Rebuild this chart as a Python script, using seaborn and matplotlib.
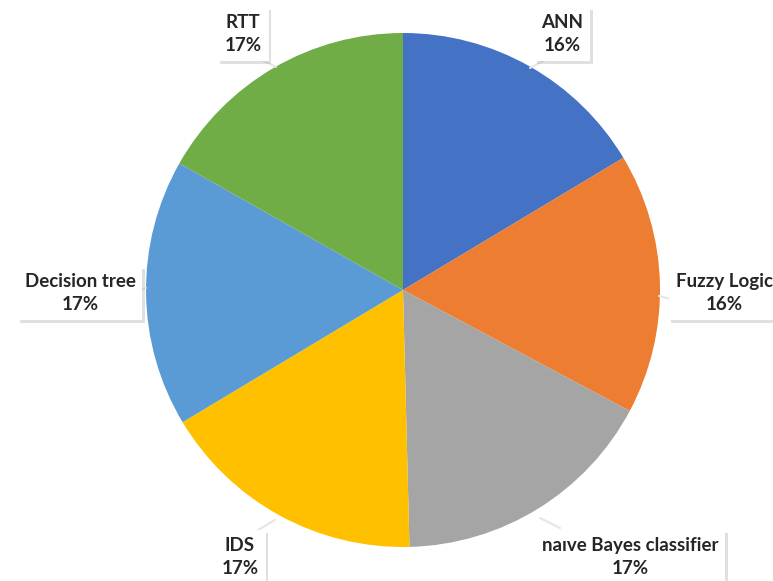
import matplotlib
matplotlib.use("Agg")
import matplotlib.pyplot as plt
import matplotlib.patheffects as pe
from matplotlib.patches import Rectangle
from matplotlib.transforms import Bbox
import seaborn as sns

categories = ["ANN", "Fuzzy Logic", "naıve Bayes classifier", "IDS", "Decision tree", "RTT"]
values = [16.4, 16.4, 16.8, 16.8, 16.8, 16.8]
colors = ["#4472C4", "#ED7D31", "#A5A5A5", "#FFC000", "#5B9BD5", "#70AD47"]

sns.set_theme(style="white")
plt.rcParams['font.family'] = ['Lato', 'DejaVu Sans']

W, H = 773, 581
fig = plt.figure(figsize=(W / 100, H / 100), dpi=100)
ax = fig.add_axes([0, 0, 1, 1])

cx, cy, r = 403, H - 290, 257
ax.pie(values, colors=colors, startangle=90, counterclock=False,
       center=(cx, cy), radius=r, wedgeprops=dict(linewidth=0))
ax.set_xlim(0, W)
ax.set_ylim(0, H)
ax.set_aspect('equal')
ax.axis('off')

total = sum(values)
pct_labels = [f"{round(v / total * 100)}%" for v in values]

# label positions in pixel coords (x, y from top) -- layout only
label_pos = [(562, 34), (724, 293), (630, 557), (240, 557), (80, 293), (243, 34)]
# pointer endpoints (box anchor -> pie edge)
pointers = [((545, 60), (530, 68)), ((674, 300), (659, 296)),
            ((560, 528), (540, 518)), ((258, 530), (275, 520)),
            ((134, 292), (146, 288)), ((262, 60), (276, 67))]

fig.canvas.draw()
renderer = fig.canvas.get_renderer()
half_gap = 11.5
pad = 7
for cat, pct, (x, y), (p0, p1) in zip(categories, pct_labels, label_pos, pointers):
    ax.plot([p0[0], p1[0]], [H - p0[1], H - p1[1]], color="#E6E6E6", lw=1.5, zorder=3)
    t1 = ax.text(x, H - y + half_gap, cat, ha='center', va='center', fontsize=13.5,
                 fontweight='bold', color='#262626', zorder=6)
    t2 = ax.text(x, H - y - half_gap, pct, ha='center', va='center', fontsize=13.5,
                 fontweight='bold', color='#262626', zorder=6)
    bb = Bbox.union([t1.get_window_extent(renderer), t2.get_window_extent(renderer)])
    # data coords == pixel coords here (axes spans full figure, 1 unit = 1 px)
    rect = Rectangle((bb.x0 - pad, bb.y0 - pad), bb.width + 2 * pad, bb.height + 2 * pad,
                     facecolor='white', edgecolor='none', zorder=5)
    rect.set_path_effects([
        pe.SimplePatchShadow(offset=(2, -2), shadow_rgbFace='#9A9A9A', alpha=0.3),
        pe.Normal()])
    ax.add_patch(rect)

fig.savefig("out.png", dpi=100)
